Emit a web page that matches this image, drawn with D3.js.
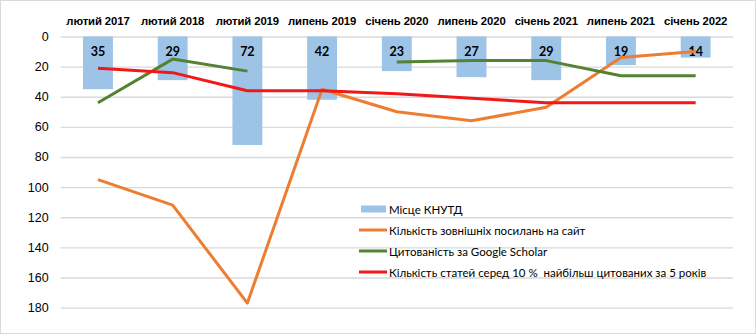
<!DOCTYPE html>
<html><head><meta charset="utf-8">
<script src="https://cdn.jsdelivr.net/npm/d3@7"></script>
<style>body{margin:0;background:#fff}svg{display:block;font-family:Lato,"Open Sans",sans-serif}</style>
</head><body><svg id="c" width="756" height="334"></svg>
<script>
const categories = ["лютий 2017","лютий 2018","лютий 2019","липень 2019","січень 2020","липень 2020","січень 2021","липень 2021","січень 2022"];
const rankKNUTD = [35,29,72,42,23,27,29,19,14];
const externalLinks = [95,112,177,35,50,56,47,14,10];
const googleScholar = [44,15,23,null,17,16,16,26,26];
const topCited = [21,24,36,36,38,41,44,44,44];
const yTicks = [0,20,40,60,80,100,120,140,160,180];
const seriesNames = ["Місце КНУТД","Кількість зовнішніх посилань на сайт","Цитованість за Google Scholar","Кількість статей серед 10 %  найбільш цитованих за 5 років"];
const colors = {bar:"#9DC3E6",orange:"#ED7D31",green:"#548235",red:"#F01818"};

const svg = d3.select("#c");
svg.append("rect").attr("x",0.5).attr("y",0.5).attr("width",755).attr("height",333).attr("fill","#fff").attr("stroke","#D9D9D9");

const x = d3.scaleBand().domain(categories).range([60.6,733]).paddingInner(0.6).paddingOuter(0.3);
const y = d3.scaleLinear().domain([0,180]).range([36.5,307.6]);
const cx = c => x(c) + x.bandwidth()/2;

// gridlines + y axis
const ya = svg.append("g").attr("transform","translate(60.6,0)")
  .call(d3.axisLeft(y).tickValues(yTicks).tickSize(-(733-60.6)).tickPadding(12));
ya.select(".domain").remove();
ya.selectAll(".tick line").attr("stroke","#D9D9D9").attr("stroke-width",1.3);
ya.selectAll(".tick text").attr("font-size",12.5).attr("fill","#000");

// x axis on top
const xa = svg.append("g").attr("transform","translate(0,24.5)")
  .call(d3.axisTop(x).tickSize(0).tickPadding(0));
xa.select(".domain").remove();
xa.selectAll(".tick text").attr("font-size",11.3).attr("font-weight","bold").attr("fill","#000").attr("letter-spacing",-0.1);

// bars
svg.append("g").selectAll("rect").data(rankKNUTD).join("rect")
  .attr("x",(d,i)=>x(categories[i])).attr("width",x.bandwidth())
  .attr("y",y(0)).attr("height",d=>y(d)-y(0)).attr("fill",colors.bar);
svg.append("g").selectAll("text").data(rankKNUTD).join("text")
  .attr("x",(d,i)=>cx(categories[i])).attr("y",y(0)+19)
  .attr("text-anchor","middle").attr("font-size",12.5).attr("font-weight","bold").text(d=>d);

const line = d3.line().defined(d=>d!=null).x((d,i)=>cx(categories[i])).y(d=>y(d));
[[externalLinks,colors.orange],[googleScholar,colors.green],[topCited,colors.red]].forEach(([data,col])=>{
  svg.append("path").datum(data).attr("d",line).attr("fill","none").attr("stroke",col)
    .attr("stroke-width",3).attr("stroke-linejoin","round");
});

// legend
const lg = svg.append("g");
const legendItems = [[seriesNames[0],colors.bar,"bar"],[seriesNames[1],colors.orange,"line"],[seriesNames[2],colors.green,"line"],[seriesNames[3],colors.red,"line"]];
legendItems.forEach((it,i)=>{
  const yy = 209 + i*21;
  if(it[2]==="bar") lg.append("rect").attr("x",361).attr("y",yy-3.5).attr("width",25).attr("height",7).attr("fill",it[1]);
  else lg.append("line").attr("x1",359).attr("x2",387).attr("y1",yy).attr("y2",yy).attr("stroke",it[1]).attr("stroke-width",3);
  lg.append("text").attr("x",389).attr("y",yy+4.5).attr("font-size",11.5).style("white-space","pre").text(it[0]);
});
</script></body></html>
